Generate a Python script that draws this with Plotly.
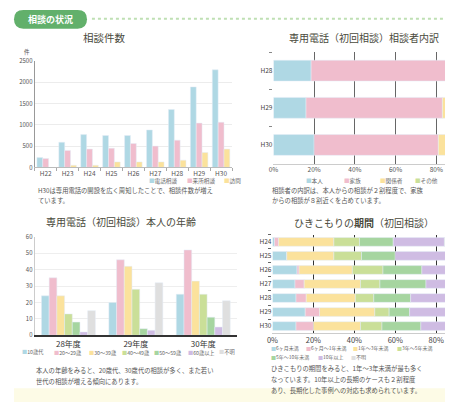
import plotly.graph_objects as go

# page is shown with an 8px body margin: design in page pixels, shift into figure
OFF = 8
W, H = 453 - OFF, 406 - OFF
FONT = "Noto Sans CJK JP"

# ---------------- data ----------------
# 相談件数
years1 = ["H22", "H23", "H24", "H25", "H26", "H27", "H28", "H29", "H30"]
series1_names = ["電話相談", "来所相談", "訪問"]
tel = [230, 590, 770, 750, 750, 880, 1360, 1890, 2290]
visit = [210, 400, 430, 450, 560, 500, 640, 1040, 1060]
home = [0, 50, 50, 130, 130, 130, 170, 350, 430]

# 専用電話（初回相談）相談者内訳
years2 = ["H28", "H29", "H30"]
series2_names = ["本人", "家族", "関係者", "その他"]
honnin = [18.5, 16, 20]
kazoku = [68, 67, 61]
kankei = [10, 13, 14]
sonota = [3.5, 4, 5]

# 専用電話（初回相談）本人の年齢
years3 = ["28年度", "29年度", "30年度"]
series3_names = ["10歳代", "20～29歳", "30～39歳", "40～49歳", "50～59歳", "60歳以上", "不明"]
age10 = [24, 20, 25]
age20 = [35, 46, 52]
age30 = [24, 42, 33]
age40 = [13, 28, 25]
age50 = [8, 4, 11]
age60 = [2, 3, 5]
age_unknown = [15, 32, 21]

# ひきこもりの期間（初回相談）
years4 = ["H24", "H25", "H26", "H27", "H28", "H29", "H30"]
series4_names = ["6ヶ月未満", "6ヶ月～1年未満", "1年～3年未満", "3年～5年未満",
                 "5年～10年未満", "10年以上", "不明"]
p_6m = [1, 7, 12, 11, 11.5, 16, 11.5]
p_1y = [2, 0, 1, 4.5, 5, 7, 8.5]
p_3y = [27, 23, 26, 27.5, 24, 27, 23]
p_5y = [12.5, 13.5, 15, 9.5, 9, 7, 10.5]
p_10y = [16.5, 16.5, 19, 22.5, 18, 10, 19]
p_10up = [25, 25, 20, 17, 24, 25, 20]
p_unk = [16, 15, 7, 8, 8.5, 8, 7.5]

pct_ticks = [0, 20, 40, 60, 80]
pct_labels = ["0%", "20%", "40%", "60%", "80%"]

# ---------------- styles ----------------
C_BLUE = "#afd8e4"
C_PINK = "#f0bdcd"
C_YEL = "#fbe29c"
C_LGRN = "#cadf98"
C_GRN = "#a6d5a0"
C_PUR = "#cfbce3"
C_GRY = "#dfdfdf"

colors1 = [C_BLUE, C_PINK, C_YEL]
colors2 = [C_BLUE, C_PINK, C_YEL, C_LGRN]
colors3 = [C_BLUE, C_PINK, C_YEL, C_LGRN, C_GRN, C_PUR, C_GRY]
colors4 = [C_BLUE, C_PINK, C_YEL, C_LGRN, C_GRN, C_PUR, C_GRY]


def px(x):
    return (x - OFF) / W


def py(y):
    return 1 - (y - OFF) / H


fig = go.Figure()

# chart 1: grouped bars
for name, vals, col in zip(series1_names, [tel, visit, home], colors1):
    fig.add_trace(go.Bar(x=years1, y=vals, name=name, marker_color=col,
                         xaxis="x", yaxis="y", showlegend=False))

# chart 2: stacked horizontal 100%
base = [0] * len(years2)
for name, vals, col in zip(series2_names, [honnin, kazoku, kankei, sonota], colors2):
    fig.add_trace(go.Bar(y=years2, x=vals, base=list(base), orientation="h", name=name,
                         marker_color=col, offsetgroup="s2", width=0.56, offset=-0.28,
                         xaxis="x2", yaxis="y2", showlegend=False))
    base = [b + v for b, v in zip(base, vals)]

# chart 3: grouped bars
for name, vals, col in zip(series3_names,
                           [age10, age20, age30, age40, age50, age60, age_unknown], colors3):
    fig.add_trace(go.Bar(x=years3, y=vals, name=name, marker_color=col,
                         xaxis="x3", yaxis="y3", showlegend=False))

# chart 4: stacked horizontal 100%
base = [0] * len(years4)
for name, vals, col in zip(series4_names,
                           [p_6m, p_1y, p_3y, p_5y, p_10y, p_10up, p_unk], colors4):
    fig.add_trace(go.Bar(y=years4, x=vals, base=list(base), orientation="h", name=name,
                         marker_color=col, offsetgroup="s4", width=0.62, offset=-0.31,
                         xaxis="x4", yaxis="y4", showlegend=False))
    base = [b + v for b, v in zip(base, vals)]

tick_col = "#555"
fig.update_layout(
    width=W, height=H, margin=dict(l=0, r=0, t=0, b=0),
    paper_bgcolor="white", plot_bgcolor="rgba(0,0,0,0)",
    font=dict(family=FONT, color="#444", size=7),
    barmode="group", bargap=0.2, bargroupgap=0,
    xaxis=dict(domain=[px(29), px(229)], anchor="y", type="category",
               tickfont=dict(size=6.5, color=tick_col), showline=True, linecolor="#bbb",
               ticks="outside", tickson="boundaries", ticklen=3, tickcolor="#aaa",
               showgrid=False),
    yaxis=dict(domain=[py(166), py(57)], anchor="x", range=[0, 2500], dtick=500,
               showgrid=True, gridcolor="#ececec", showline=True, linecolor="#999",
               tickfont=dict(size=6, color=tick_col), zeroline=False, ticks=""),
    xaxis2=dict(domain=[px(271), 1], anchor="y2", range=[0, 88.2],
                tickvals=pct_ticks, ticktext=pct_labels,
                showgrid=True, gridcolor="#666", gridwidth=1, zeroline=False,
                showline=True, linecolor="#ccc", tickfont=dict(size=6.5, color=tick_col)),
    yaxis2=dict(domain=[py(162), py(48)], anchor="x2", type="category",
                categoryorder="array", categoryarray=years2, autorange="reversed",
                tickfont=dict(size=6.5, color="#444"), ticks="outside",
                tickson="boundaries", ticklen=3, tickcolor="#888", showgrid=False),
    xaxis3=dict(domain=[px(29), px(234)], anchor="y3", type="category",
                tickfont=dict(size=8, color="#333"), showline=True, linecolor="#333",
                linewidth=1.5, ticks="", showgrid=False),
    yaxis3=dict(domain=[py(337.7), py(237)], anchor="x3", range=[0, 60], dtick=10,
                showgrid=True, gridcolor="#eeeeee", showline=True, linecolor="#ccc",
                zeroline=False, tickfont=dict(size=6, color=tick_col)),
    xaxis4=dict(domain=[px(270), 1], anchor="y4", range=[0, 88.2],
                tickvals=pct_ticks, ticktext=pct_labels,
                showgrid=True, gridcolor="#333", gridwidth=1, zeroline=False,
                showline=True, linecolor="#ccc", tickfont=dict(size=7.5, color="#444")),
    yaxis4=dict(domain=[py(335.5), py(235)], anchor="x4", type="category",
                categoryorder="array", categoryarray=years4, autorange="reversed",
                tickfont=dict(size=6.5, color="#444"), ticks="outside",
                tickson="boundaries", ticklen=3, tickcolor="#666", showgrid=False),
)

shapes = []
# bottom yellow band
shapes.append(dict(type="rect", xref="paper", yref="paper", x0=0, x1=1, y0=0, y1=py(392),
                   fillcolor="#fdfbe6", line_width=0, layer="below"))
# header pill
x0, x1, y0, y1 = 8, 82, 5, 24
r = (y1 - y0) / 2
ym = (y0 + y1) / 2
path = (f"M {px(x0 + r)} {py(y0)} L {px(x1 - r)} {py(y0)} "
        f"Q {px(x1)} {py(y0)} {px(x1)} {py(ym)} Q {px(x1)} {py(y1)} {px(x1 - r)} {py(y1)} "
        f"L {px(x0 + r)} {py(y1)} Q {px(x0)} {py(y1)} {px(x0)} {py(ym)} "
        f"Q {px(x0)} {py(y0)} {px(x0 + r)} {py(y0)} Z")
shapes.append(dict(type="path", xref="paper", yref="paper", path=path,
                   fillcolor="#62b06b", line_width=0))
# dotted header rule
shapes.append(dict(type="line", xref="paper", yref="paper", x0=px(87), x1=1,
                   y0=py(14), y1=py(14), line=dict(color="#bfe0b4", width=2, dash="dot")))
fig.update_layout(shapes=shapes)

ann = []


def text(x, y, s, size=6.3, color="#555", anchor="left"):
    ann.append(dict(x=px(x), y=py(y), xref="paper", yref="paper", text=s, showarrow=False,
                    xanchor=anchor, yanchor="middle", font=dict(size=size, color=color)))


def legend(xs, y, names, cols, size=5.6):
    for x, n, c in zip(xs, names, cols):
        text(x, y, f"<span style='color:{c}'>■</span>{n}", size=size, color="#666")


# header text
text(45, 14.5, "<b>相談の状況</b>", size=9, color="white", anchor="center")

# titles
TITLE_C = "#4a4a3c"
text(100, 33, "相談件数", size=10.5, color=TITLE_C, anchor="center")
text(363, 33, "専用電話（初回相談）相談者内訳", size=10, color=TITLE_C, anchor="center")
text(116, 221, "専用電話（初回相談）本人の年齢", size=10, color=TITLE_C, anchor="center")
text(363, 222, "ひきこもりの<b>期間</b>（初回相談）", size=10, color=TITLE_C, anchor="center")

# unit
text(21, 48, "件", size=5.5, color="#555", anchor="center")

# legends
legend([143, 181, 219], 180, series1_names, colors1)
legend([302, 340, 377, 412], 180, series2_names, colors2)
legend([14, 47, 82, 115, 148, 182, 214], 355, series3_names, colors3, size=5.2)
legend([266, 302, 350, 394], 351, series4_names[:4], colors4[:4], size=5)
legend([266, 314, 348], 360, series4_names[4:], colors4[4:], size=5)

# captions
text(30, 190, "H30は専用電話の開設を広く周知したことで、相談件数が増え")
text(30, 200, "ています。")
text(268, 190, "相談者の内訳は、本人からの相談が２割程度で、家族")
text(268, 200, "からの相談が８割近くを占めています。")
text(28, 374, "本人の年齢をみると、20歳代、30歳代の相談が多く、また若い")
text(28, 385, "世代の相談が増える傾向にあります。")
text(266, 372, "ひきこもりの期間をみると、1年～3年未満が最も多く")
text(266, 383, "なっています。10年以上の長期のケースも２割程度")
text(266, 394, "あり、長期化した事例への対応も求められています。")

fig.update_layout(annotations=ann)

fig.write_html("out.html")
